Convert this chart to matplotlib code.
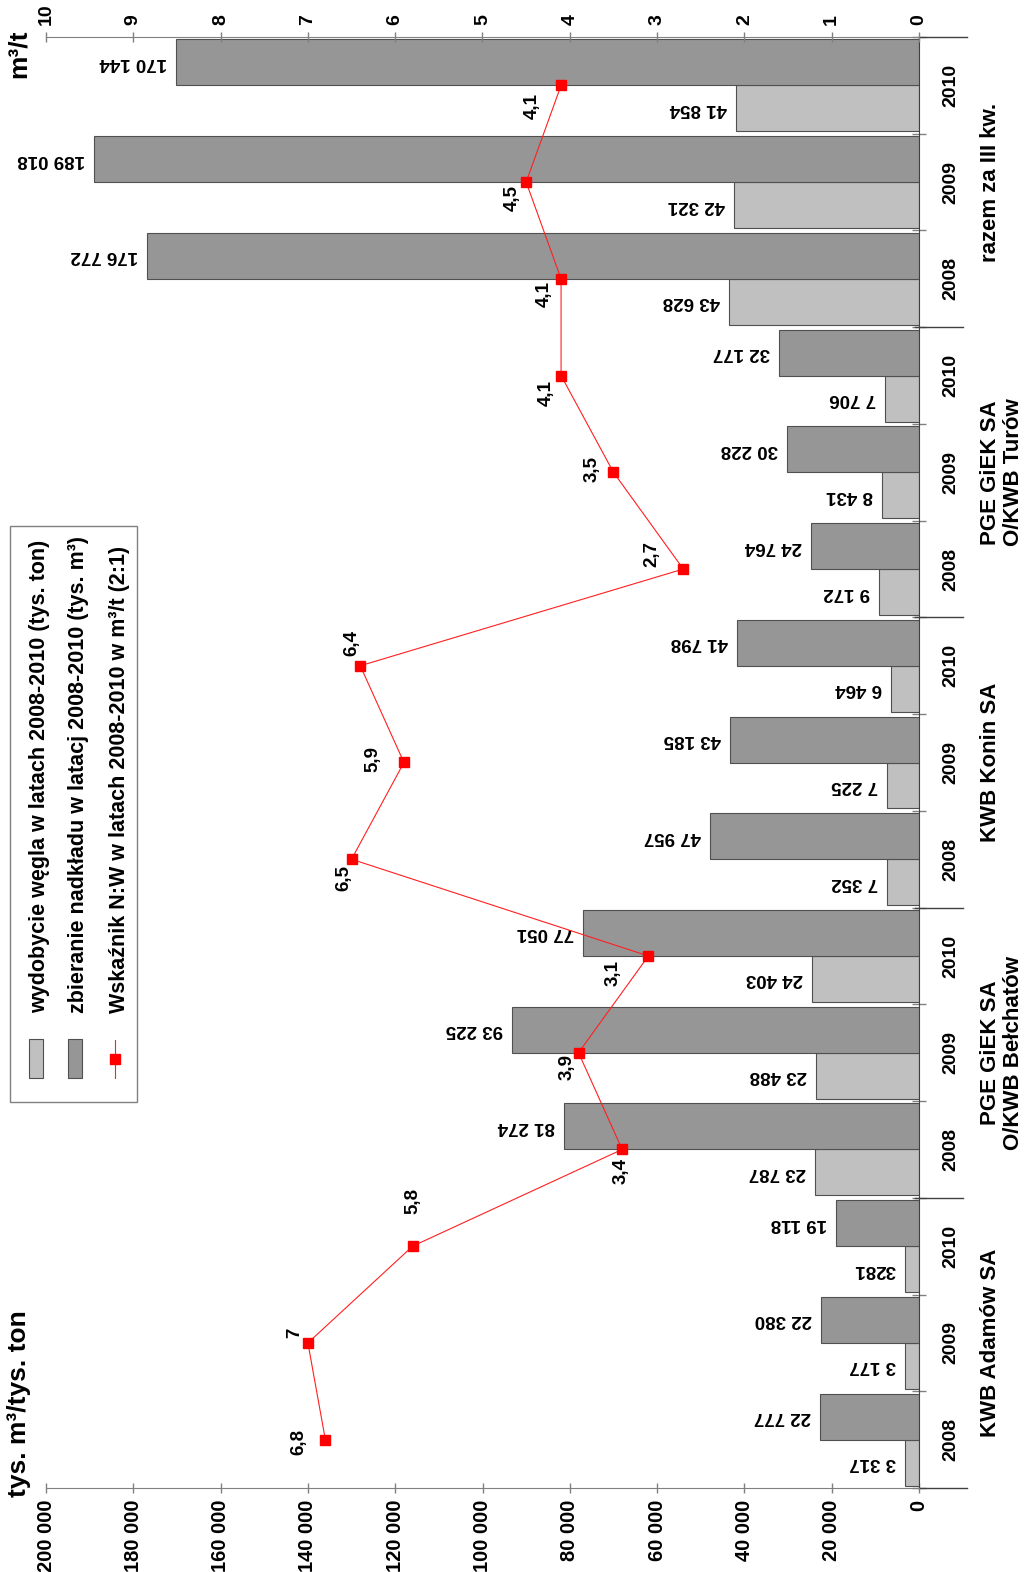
import matplotlib
matplotlib.use("Agg")
import matplotlib.pyplot as plt
import matplotlib.patches as mpatches
from matplotlib.lines import Line2D
from matplotlib.ticker import FuncFormatter
from matplotlib.transforms import blended_transform_factory
import numpy as np

plt.rcParams['font.family'] = ['Liberation Sans', 'DejaVu Sans']
plt.rcParams['font.weight'] = 'bold'

# data
groups = ["KWB Adamów SA", "PGE GiEK SA\nO/KWB Bełchatów", "KWB Konin SA",
          "PGE GiEK SA\nO/KWB Turów", "razem za III kw."]
years = ["2008", "2009", "2010"]
coal = [3317, 3177, 3281, 23787, 23488, 24403, 7352, 7225, 6464,
        9172, 8431, 7706, 43628, 42321, 41854]
overburden = [22777, 22380, 19118, 81274, 93225, 77051, 47957, 43185, 41798,
              24764, 30228, 32177, 176772, 189018, 170144]
ratio = [6.8, 7.0, 5.8, 3.4, 3.9, 3.1, 6.5, 5.9, 6.4, 2.7, 3.5, 4.1, 4.1, 4.5, 4.1]

# where the ratio labels sit relative to their marker (pixels, x right / y down)
ratio_shift = [(-26, 2), (-13, -10), (0, -45), (-1, 22), (-11, 14), (-35, 17),
               (-8, 19), (-31, -3), (-8, -23), (-31, -15), (-21, -3), (-15, 17),
               (-17, 15), (-14, 16), (-29, 21)]

LIGHT = '#c0c0c0'
DARK = '#969696'
EDGE = '#505050'
AXC = '#808080'


def fmt(v):
    return f"{int(v):,}".replace(",", " ")


coal_labels = [fmt(v) for v in coal]
coal_labels[2] = "3281"  # printed without space in the source
over_labels = [fmt(v) for v in overburden]
ratio_labels = [f"{r:g}".replace(".", ",") for r in ratio]

W, H = 1024, 1572
fig = plt.figure(figsize=(W / 100, H / 100), dpi=100)
ax = fig.add_axes([46 / W, (H - 1488) / H, 873 / W, 1451 / H])

n = len(coal)
pos = np.arange(n)
bh = 0.475
ax.barh(pos - bh / 2, coal, height=bh, color=LIGHT, edgecolor=EDGE, linewidth=0.8, zorder=2)
ax.barh(pos + bh / 2, overburden, height=bh, color=DARK, edgecolor=EDGE, linewidth=0.8, zorder=2)

for i in range(n):
    ax.annotate(coal_labels[i], (coal[i], pos[i] - bh / 2), xytext=(-9, 0),
                textcoords='offset pixels', rotation=180, ha='right', va='center',
                fontsize=13.5, fontweight='bold')
    ax.annotate(over_labels[i], (overburden[i], pos[i] + bh / 2), xytext=(-9, 0),
                textcoords='offset pixels', rotation=180, ha='right', va='center',
                fontsize=13.5, fontweight='bold')

ax.set_xlim(200000, 0)
ax.set_ylim(-0.5, n - 0.5)
ax.set_xticks(np.arange(0, 200001, 20000))
ax.xaxis.set_major_formatter(FuncFormatter(lambda v, p: fmt(v)))
ax.tick_params(axis='x', direction='inout', length=7, width=1, color=AXC,
               labelrotation=90, labelsize=14.5, pad=5)

ax.yaxis.tick_right()
ax.set_yticks(pos)
ax.set_yticklabels(years * len(groups))
ax.set_yticks(np.arange(-0.5, n, 1.0), minor=True)
ax.tick_params(axis='y', which='major', length=0, pad=17, labelsize=14)
ax.tick_params(axis='y', which='minor', direction='inout', length=10, width=1, color=AXC)
for lab in ax.get_yticklabels():
    lab.set_rotation(90)
    lab.set_va('center')

for s in ['left', 'top']:
    ax.spines[s].set_visible(False)
ax.spines['bottom'].set_color(AXC)
ax.spines['right'].set_color('#404040')

ax2 = ax.twiny()
ax2.set_xlim(10, 0)
ax2.set_xticks(np.arange(0, 11, 1))
ax2.tick_params(axis='x', direction='inout', length=7, width=1, color=AXC,
                labelrotation=90, labelsize=14, pad=5)
for s in ['left', 'right', 'bottom']:
    ax2.spines[s].set_visible(False)
ax2.spines['top'].set_color(AXC)

ax2.plot(ratio, pos, color='#ff2020', lw=0.8, marker='s', ms=7.5,
         mfc='#ff0000', mec='#ff0000', zorder=5)
for i in range(n):
    dx, dy = ratio_shift[i]
    ax2.annotate(ratio_labels[i], (ratio[i], pos[i]), xytext=(dx, -dy),
                 textcoords='offset pixels', rotation=90, ha='center', va='center',
                 fontsize=13.5, fontweight='bold')

# extensions of value axes past the category axis and group separators
tr = blended_transform_factory(ax.transAxes, ax.transData)
ext = (963 - 46) / 873
ax.plot([1, (967 - 46) / 873], [0, 0], transform=ax.transAxes, color='#404040', lw=1, clip_on=False)
ax.plot([1, (967 - 46) / 873], [1, 1], transform=ax.transAxes, color='#404040', lw=1, clip_on=False)
for b in np.arange(2.5, n - 1, 3):
    ax.plot([0.995, ext], [b, b], transform=tr, color='#404040', lw=1, clip_on=False)

for g, name in enumerate(groups):
    ax.text((980 - 46) / 873, 3 * g + 1, name, transform=tr, rotation=90,
            ha='left', va='center', multialignment='center', fontsize=16,
            fontweight='bold', linespacing=1.15)

fig.text(19 / W, 1 - 1497 / H, "tys. m³/tys. ton", rotation=90, ha='center', va='bottom',
         fontsize=19, fontweight='bold')
fig.text(19 / W, 1 - 30 / H, "m³/t", rotation=90, ha='center', va='top',
         fontsize=19, fontweight='bold')

# legend (drawn rotated like the rest of the chart)
fig.add_artist(mpatches.Rectangle((10 / W, 1 - 1102 / H), 127 / W, 576 / H,
                                  transform=fig.transFigure, facecolor='white',
                                  edgecolor=AXC, lw=1))
leg_items = [("wydobycie węgla w latach 2008-2010 (tys. ton)", LIGHT),
             ("zbieranie nadkładu w latacj 2008-2010 (tys. m³)", DARK),
             ("Wskaźnik N:W w latach 2008-2010 w m³/t (2:1)", None)]
for k, (txt, col) in enumerate(leg_items):
    cx = [36, 75, 115][k]
    if col is not None:
        fig.add_artist(mpatches.Rectangle(((cx - 7) / W, 1 - 1078 / H), 14 / W, 39 / H,
                                          transform=fig.transFigure, facecolor=col,
                                          edgecolor=EDGE, lw=0.8))
    else:
        fig.add_artist(Line2D([cx / W, cx / W], [1 - 1040 / H, 1 - 1078 / H],
                              transform=fig.transFigure, color='#ff2020', lw=0.8))
        fig.add_artist(Line2D([cx / W], [1 - 1059 / H], transform=fig.transFigure,
                              marker='s', ms=7.5, color='#ff0000', lw=0))
    fig.text((cx + 4) / W, 1 - 1013 / H, txt, rotation=90, ha='center', va='bottom',
             fontsize=15.5, fontweight='bold')

fig.savefig("out.png", dpi=100)
